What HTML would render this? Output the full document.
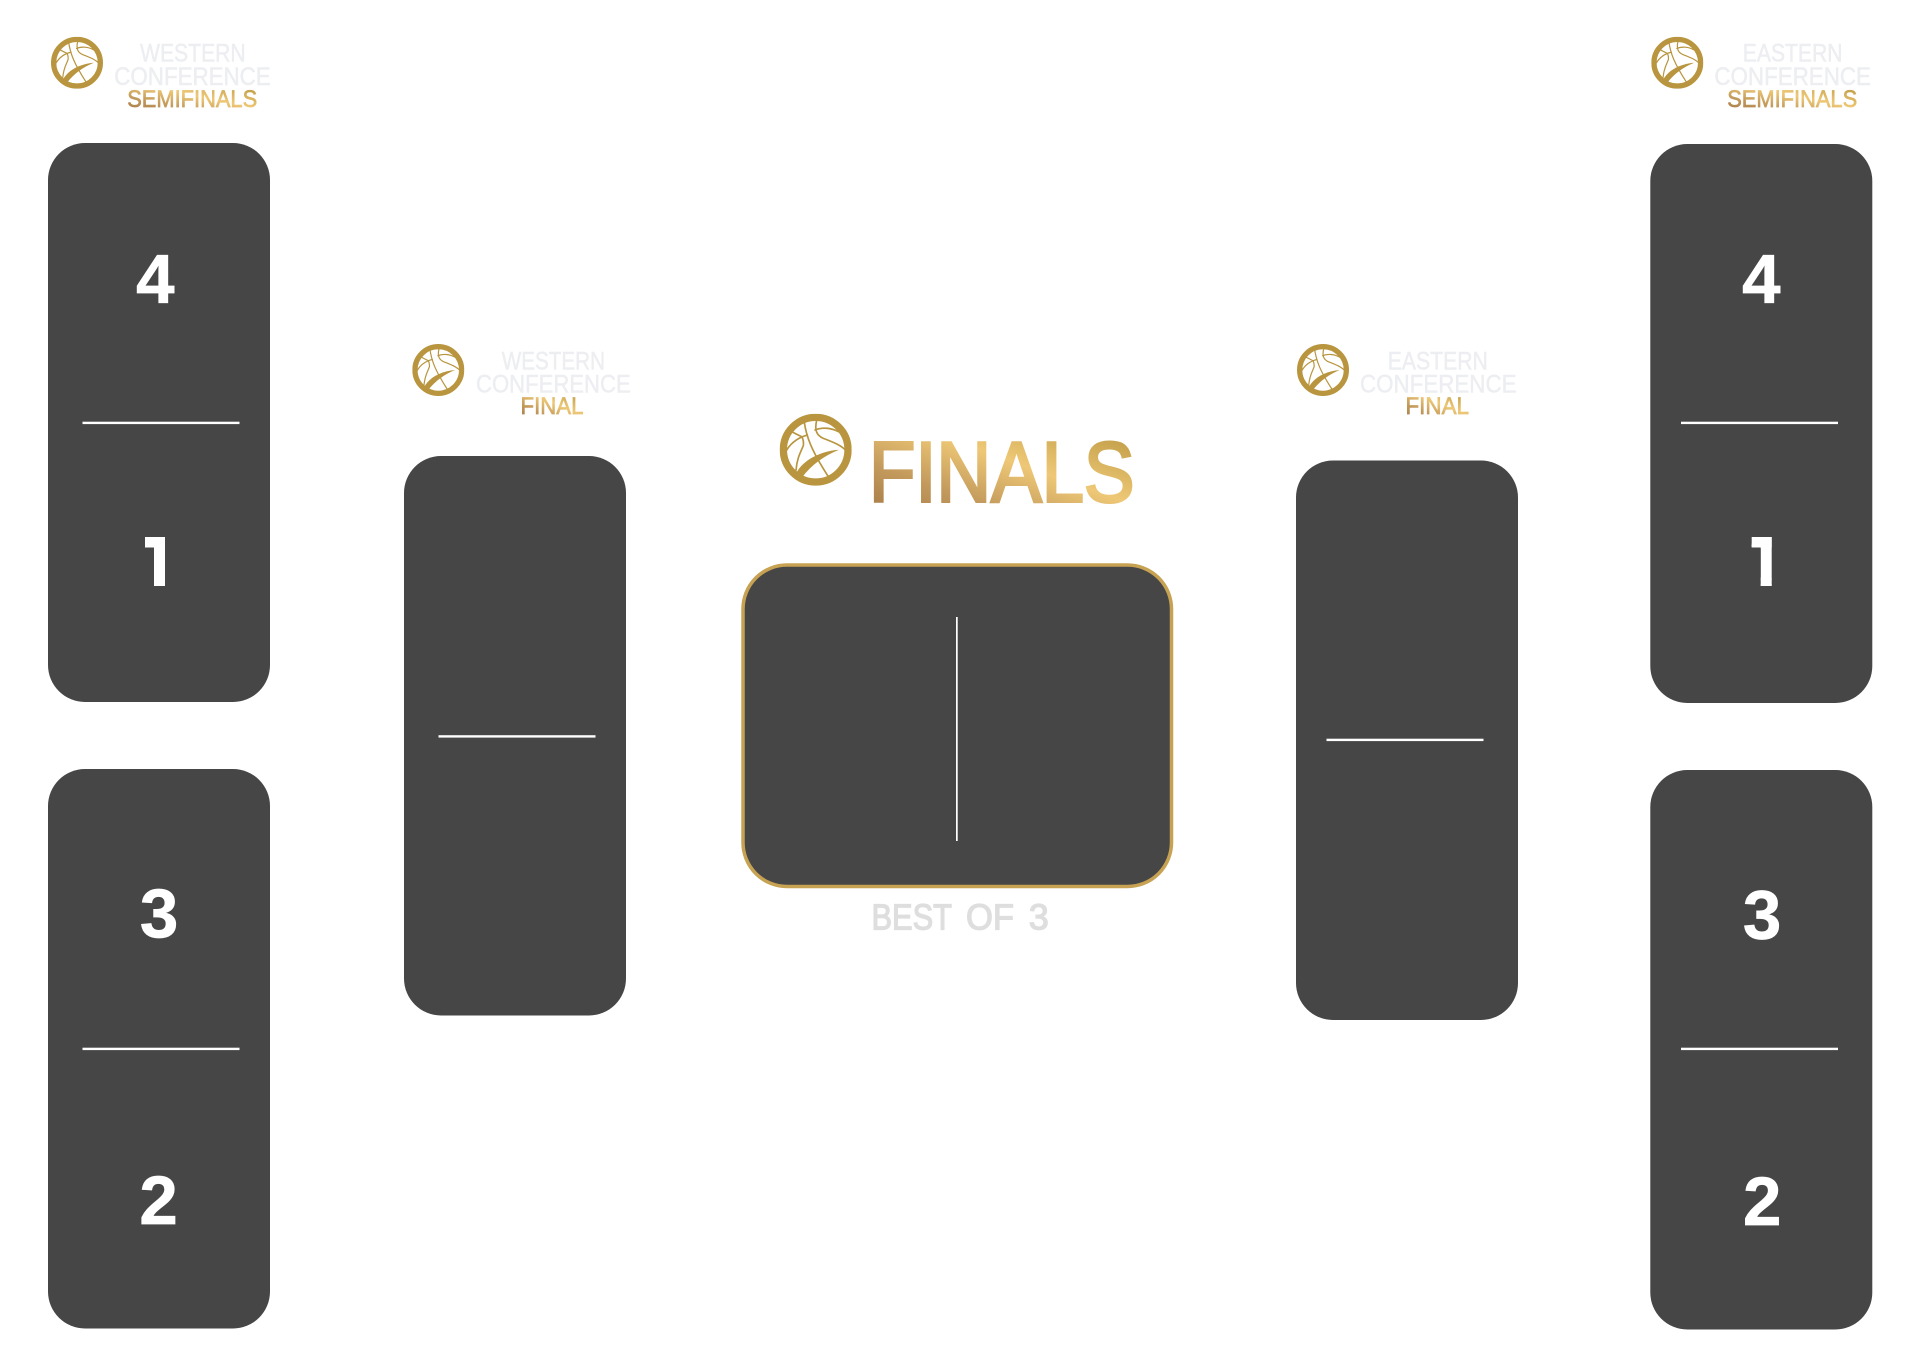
<!DOCTYPE html>
<html><head><meta charset="utf-8"><title>Bracket</title>
<style>
html,body{margin:0;padding:0;background:#fff;width:1920px;height:1366px;overflow:hidden}
svg{display:block}
.l{font-family:"Liberation Sans",sans-serif;fill:#eceef1;stroke:#eceef1;stroke-width:.5;font-size:25.2px}
.g{font-family:"Liberation Sans",sans-serif;fill:url(#gold);font-size:24.5px;stroke:url(#gold);stroke-width:.7}
.d{font-family:"Liberation Sans",sans-serif;font-weight:700;font-size:69px;fill:#fff;stroke:#fff;stroke-width:.7;text-anchor:middle}
.o{stroke-width:2.6}
.b{font-family:"Liberation Sans",sans-serif;font-size:36px;fill:#dedede;stroke:#dedede;stroke-width:1.3}
</style></head>
<body>
<svg width="1920" height="1366" viewBox="0 0 1920 1366" xmlns="http://www.w3.org/2000/svg">
<defs>
<linearGradient id="gold" x1="0" y1="1" x2="1" y2="0">
<stop offset="0" stop-color="#a27544"/><stop offset=".3" stop-color="#c39a5c"/><stop offset=".58" stop-color="#eec876"/><stop offset="1" stop-color="#b8953e"/>
</linearGradient>
<symbol id="ball" viewBox="0 0 216 216">
<circle cx="108" cy="108" r="97" fill="none" stroke="#b8953e" stroke-width="22"/>
<g fill="none" stroke="#b8953e" stroke-width="5" stroke-linecap="round">
<path d="M73 21C80 70 95 110 146 189"/>
<path d="M111 19C104 49 110 65 131 74C160 85 185 95 199 111"/>
<path d="M106 49C125 40 155 42 176 54"/>
<path d="M36 54L66 69"/>
<path d="M21 109C35 85 60 70 83 64"/>
<path d="M49 169C52 130 66 110 71 95C72 85 70 75 66 69"/>
</g>
<path d="M46 186C62 146 112 113 178 108C134 126 96 152 66 192Z" fill="#b8953e"/>
</symbol>
<clipPath id="oneL"><path d="M145 537H165V586H154V547H145Z"/></clipPath>
<clipPath id="oneR"><path d="M1751.7 537H1771.7V586H1760.7V547H1751.7Z"/></clipPath>
</defs>
<rect width="1920" height="1366" fill="#fff"/>

<!-- boxes -->
<g fill="#464646">
<rect x="48" y="143" width="222" height="559" rx="37"/>
<rect x="48" y="769" width="222" height="559.500" rx="37"/>
<rect x="404" y="456" width="222" height="559.500" rx="37"/>
<rect x="1296" y="460.500" width="222" height="559.500" rx="37"/>
<rect x="1650.300" y="144" width="222" height="559" rx="37"/>
<rect x="1650.300" y="770" width="222" height="559.500" rx="37"/>
<rect x="743" y="565" width="428.500" height="321.500" rx="44" stroke="#c7a253" stroke-width="3.500"/>
</g>

<!-- divider lines -->
<g fill="#fff">
<rect x="82.500" y="421.700" width="157" height="2.400"/>
<rect x="82.500" y="1047.700" width="157" height="2.400"/>
<rect x="438.500" y="735.200" width="157" height="2.400"/>
<rect x="1326.500" y="738.700" width="157" height="2.400"/>
<rect x="1681" y="421.700" width="157" height="2.400"/>
<rect x="1681" y="1047.700" width="157" height="2.400"/>
<rect x="956" y="617" width="1.700" height="224"/>
</g>

<!-- digits -->
<text class="d" x="155.300" y="302.700">4</text>
<rect x="145" y="537" width="20" height="10.500" fill="#fff"/>
<text class="d o" x="158.300" y="585.700" clip-path="url(#oneL)">1</text>
<text class="d" x="159" y="937">3</text>
<text class="d" x="158.600" y="1224">2</text>
<text class="d" x="1761.300" y="302.700">4</text>
<rect x="1751.700" y="537" width="20" height="10.500" fill="#fff"/>
<text class="d o" x="1765" y="585.700" clip-path="url(#oneR)">1</text>
<text class="d" x="1762" y="938.500">3</text>
<text class="d" x="1762.200" y="1225">2</text>

<!-- logos -->
<use href="#ball" x="51" y="36.700" width="52" height="52"/>
<use href="#ball" x="412.300" y="344" width="52" height="52"/>
<use href="#ball" x="1297" y="344" width="52" height="52"/>
<use href="#ball" x="1651.300" y="36.700" width="52" height="52"/>
<use href="#ball" x="779.700" y="413.700" width="72" height="72"/>

<!-- top left label -->
<text class="l" x="140" y="61.700" textLength="105.700" lengthAdjust="spacingAndGlyphs">WESTERN</text>
<text class="l" x="114.300" y="85" textLength="156.400" lengthAdjust="spacingAndGlyphs">CONFERENCE</text>
<text class="g" x="127.200" y="106.800" textLength="130" lengthAdjust="spacingAndGlyphs">SEMIFINALS</text>

<!-- mid left label -->
<text class="l" x="501.700" y="369.300" textLength="103.300" lengthAdjust="spacingAndGlyphs">WESTERN</text>
<text class="l" x="476" y="392.700" textLength="154.700" lengthAdjust="spacingAndGlyphs">CONFERENCE</text>
<text class="g" x="520.500" y="414" textLength="63" lengthAdjust="spacingAndGlyphs">FINAL</text>

<!-- mid right label -->
<text class="l" x="1387.800" y="369.300" textLength="100" lengthAdjust="spacingAndGlyphs">EASTERN</text>
<text class="l" x="1360" y="392.700" textLength="156.500" lengthAdjust="spacingAndGlyphs">CONFERENCE</text>
<text class="g" x="1405.500" y="414" textLength="63.500" lengthAdjust="spacingAndGlyphs">FINAL</text>

<!-- top right label -->
<text class="l" x="1742.800" y="61.700" textLength="99.700" lengthAdjust="spacingAndGlyphs">EASTERN</text>
<text class="l" x="1714.400" y="85" textLength="156.500" lengthAdjust="spacingAndGlyphs">CONFERENCE</text>
<text class="g" x="1727.200" y="106.800" textLength="130" lengthAdjust="spacingAndGlyphs">SEMIFINALS</text>

<!-- FINALS -->
<text x="869" y="501.500" font-family="'Liberation Sans',sans-serif" font-size="85" fill="url(#gold)" stroke="url(#gold)" stroke-width="3" textLength="265.500" lengthAdjust="spacingAndGlyphs">FINALS</text>

<!-- BEST OF 3 -->
<text class="b" x="871.500" y="929.500" textLength="80.500" lengthAdjust="spacingAndGlyphs">BEST</text>
<text class="b" x="966" y="929.500" textLength="48" lengthAdjust="spacingAndGlyphs">OF</text>
<text class="b" x="1028.800" y="929.500" textLength="20" lengthAdjust="spacingAndGlyphs">3</text>
</svg>
</body></html>
